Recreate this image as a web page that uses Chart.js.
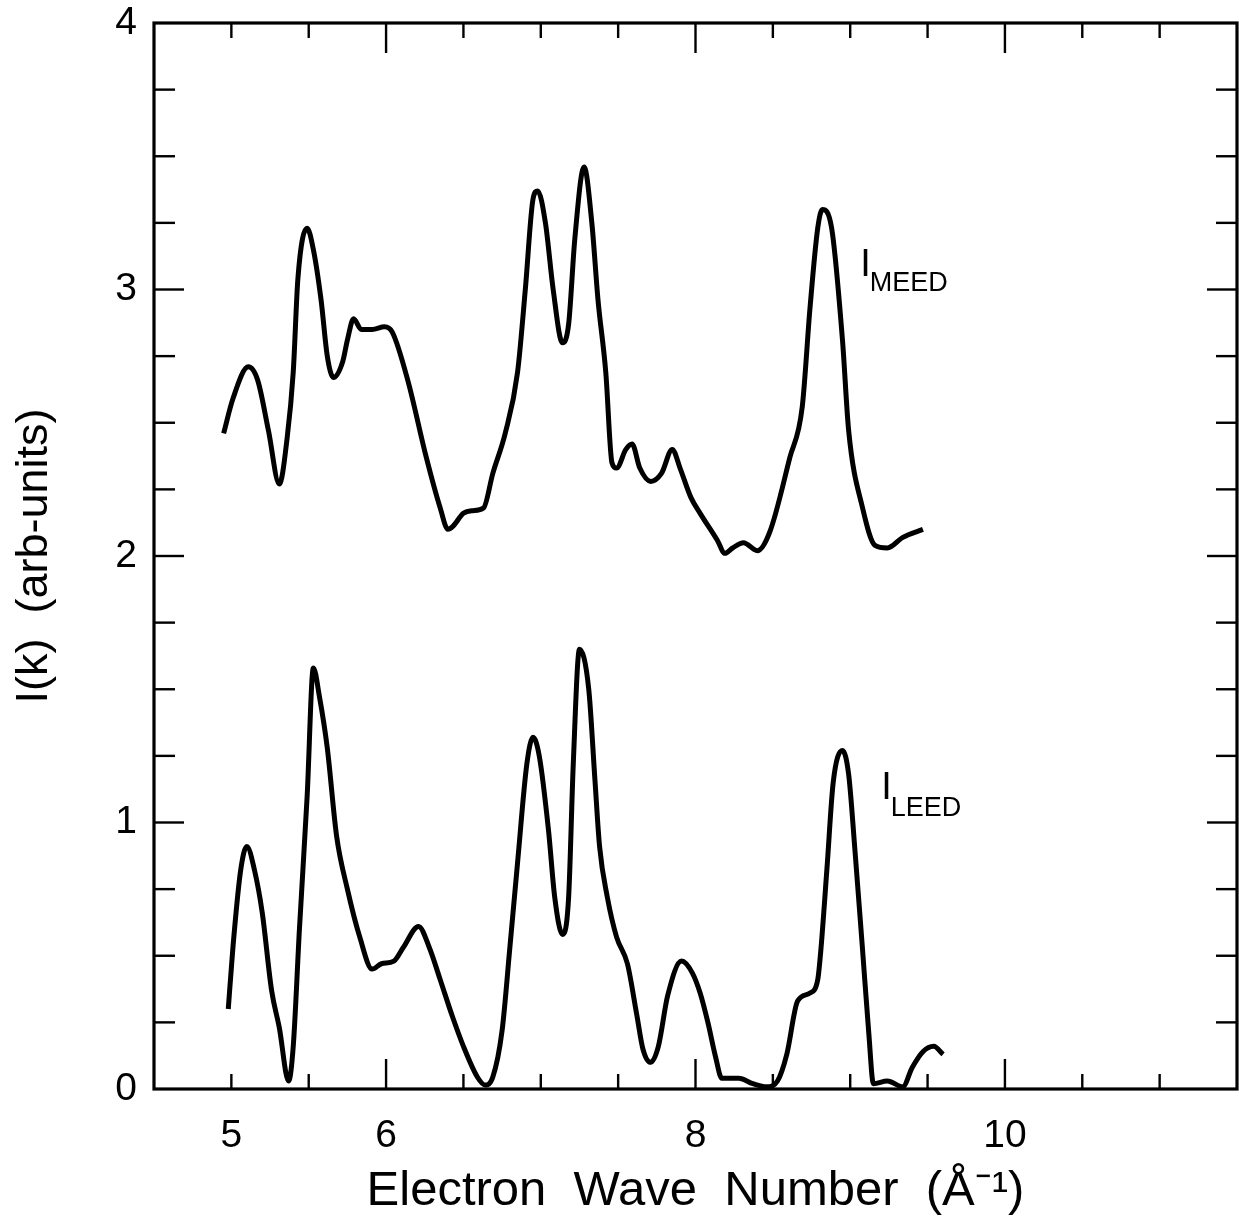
<!DOCTYPE html>
<html>
<head>
<meta charset="utf-8">
<script src="https://cdn.jsdelivr.net/npm/chart.js@4"></script>
<style>
  html, body { margin: 0; padding: 0; background: #fff; }
  #wrap { width: 1239px; height: 1224px; position: relative; }
</style>
</head>
<body>
<div id="wrap"><canvas id="iChart"></canvas></div>
<script>
// I_MEED curve (k in 1/Å, intensity in arb. units)
const meedK = [4.95, 5.01, 5.11, 5.17, 5.24, 5.31, 5.36, 5.40, 5.43, 5.49, 5.53, 5.58, 5.62, 5.66, 5.72, 5.75,
  5.79, 5.84, 5.91, 5.99, 6.04, 6.14, 6.26, 6.35, 6.40, 6.43, 6.50, 6.56, 6.63, 6.69, 6.77, 6.85, 6.90, 6.95,
  6.98, 7.03, 7.08, 7.14, 7.18, 7.22, 7.28, 7.33, 7.37, 7.42, 7.46, 7.49, 7.55, 7.59, 7.64, 7.71, 7.78, 7.85,
  7.90, 7.97, 8.03, 8.14, 8.19, 8.24, 8.31, 8.40, 8.48, 8.61, 8.69, 8.74, 8.79, 8.82, 8.88, 8.95, 8.99, 9.08,
  9.16, 9.24, 9.34, 9.47];
const meedI = [2.46, 2.59, 2.71, 2.66, 2.47, 2.27, 2.44, 2.69, 3.04, 3.23, 3.15, 2.96, 2.75, 2.67, 2.73, 2.81,
  2.89, 2.85, 2.85, 2.86, 2.84, 2.66, 2.37, 2.18, 2.10, 2.11, 2.16, 2.17, 2.18, 2.31, 2.46, 2.69, 3.00, 3.34,
  3.37, 3.25, 3.00, 2.80, 2.87, 3.19, 3.46, 3.25, 2.96, 2.69, 2.35, 2.33, 2.40, 2.42, 2.33, 2.28, 2.31, 2.40,
  2.33, 2.22, 2.16, 2.06, 2.01, 2.03, 2.05, 2.02, 2.09, 2.37, 2.56, 2.93, 3.23, 3.30, 3.23, 2.81, 2.47, 2.18,
  2.04, 2.03, 2.07, 2.10];

// I_LEED curve
const leedK = [4.98, 5.01, 5.06, 5.10, 5.15, 5.20, 5.26, 5.31, 5.37, 5.40, 5.44, 5.49, 5.53, 5.57, 5.62, 5.68,
  5.75, 5.83, 5.91, 5.97, 6.05, 6.11, 6.21, 6.28, 6.35, 6.43, 6.50, 6.59, 6.64, 6.69, 6.75, 6.80, 6.85, 6.91,
  6.95, 6.99, 7.05, 7.09, 7.14, 7.18, 7.21, 7.25, 7.31, 7.35, 7.38, 7.43, 7.49, 7.56, 7.62, 7.66, 7.71, 7.76,
  7.82, 7.91, 7.98, 8.03, 8.08, 8.13, 8.17, 8.28, 8.37, 8.46, 8.53, 8.59, 8.66, 8.74, 8.79, 8.81, 8.85, 8.89,
  8.95, 8.99, 9.03, 9.08, 9.12, 9.15, 9.24, 9.34, 9.40, 9.47, 9.54, 9.60];
const leedI = [0.30, 0.53, 0.82, 0.91, 0.82, 0.66, 0.37, 0.23, 0.03, 0.16, 0.60, 1.10, 1.58, 1.47, 1.28, 0.95,
  0.75, 0.57, 0.45, 0.47, 0.48, 0.53, 0.61, 0.53, 0.41, 0.27, 0.16, 0.045, 0.015, 0.045, 0.22, 0.53, 0.85, 1.22,
  1.32, 1.25, 0.97, 0.72, 0.58, 0.72, 1.22, 1.65, 1.50, 1.16, 0.91, 0.72, 0.57, 0.47, 0.28, 0.15, 0.10, 0.16,
  0.35, 0.48, 0.435, 0.36, 0.25, 0.12, 0.04, 0.04, 0.02, 0.008, 0.03, 0.13, 0.33, 0.36, 0.41, 0.52, 0.83, 1.15,
  1.27, 1.18, 0.90, 0.52, 0.21, 0.02, 0.03, 0.008, 0.08, 0.14, 0.16, 0.13];

// axis labels
const xTickLabels = [5, 6, 8, 10];
const yTickLabels = [0, 1, 2, 3, 4];

const fontFamily = '"Liberation Sans", Arial, Helvetica, sans-serif';

function toPoints(ks, vals) {
  return ks.map((k, i) => ({ x: k, y: vals[i] }));
}

// frame, inward ticks on all four sides, and the curve names
const frameTicks = {
  id: 'frameTicks',
  afterDraw(chart) {
    const { ctx, chartArea: a, scales: { x, y } } = chart;
    ctx.save();
    ctx.strokeStyle = '#000';
    ctx.lineCap = 'butt';
    ctx.lineWidth = 2.4;
    const seg = (x1, y1, x2, y2) => {
      ctx.beginPath();
      ctx.moveTo(x1, y1);
      ctx.lineTo(x2, y2);
      ctx.stroke();
    };
    x.ticks.forEach(t => {
      if (t.value <= x.min || t.value >= x.max) return;
      const px = x.getPixelForValue(t.value);
      const len = t.value % 2 === 0 ? 30 : 15;
      seg(px, a.bottom, px, a.bottom - len);
      seg(px, a.top, px, a.top + len);
    });
    y.ticks.forEach(t => {
      if (t.value <= y.min || t.value >= y.max) return;
      const py = y.getPixelForValue(t.value);
      const len = Number.isInteger(t.value) ? 30 : 21;
      seg(a.left, py, a.left + len, py);
      seg(a.right, py, a.right - len, py);
    });
    ctx.lineWidth = 3.2;
    ctx.strokeRect(a.left, a.top, a.right - a.left, a.bottom - a.top);

    ctx.fillStyle = '#000';
    ctx.textBaseline = 'alphabetic';
    const name = (k, v, sub, drop) => {
      const px = x.getPixelForValue(k);
      const py = y.getPixelForValue(v);
      ctx.font = '38px ' + fontFamily;
      ctx.fillText('I', px, py);
      const w = ctx.measureText('I').width;
      ctx.font = '27px ' + fontFamily;
      ctx.fillText(sub, px + w - 1, py + drop);
    };
    name(9.065, 3.05, 'MEED', 15);
    name(9.2, 1.09, 'LEED', 17);
    ctx.restore();
  }
};

new Chart(document.getElementById('iChart'), {
  type: 'line',
  data: {
    datasets: [
      { label: 'I MEED', data: toPoints(meedK, meedI) },
      { label: 'I LEED', data: toPoints(leedK, leedI) }
    ]
  },
  options: {
    responsive: true,
    maintainAspectRatio: false,
    animation: false,
    layout: { padding: { left: 0, right: 2, top: 23, bottom: 0 } },
    elements: {
      line: { borderColor: '#000', borderWidth: 5, cubicInterpolationMode: 'monotone', fill: false },
      point: { radius: 0 }
    },
    plugins: { legend: { display: false }, tooltip: { enabled: false } },
    scales: {
      x: {
        type: 'linear',
        min: 4.5,
        max: 11.5,
        grid: { display: false, drawTicks: false },
        border: { display: false },
        ticks: {
          stepSize: 0.5,
          autoSkip: false,
          maxRotation: 0,
          padding: 24,
          color: '#000',
          font: { family: fontFamily, size: 39 },
          callback: v => xTickLabels.includes(v) ? String(v) : ''
        },
        title: {
          display: true,
          text: 'Electron  Wave  Number  (Å⁻¹)',
          color: '#000',
          font: { family: fontFamily, size: 49 },
          padding: { top: 0, bottom: 3 }
        },
        afterFit: s => {
          s.height = 135;
          s.paddingLeft = 0;
          s.paddingRight = 0;
        }
      },
      y: {
        min: 0,
        max: 4,
        grid: { display: false, drawTicks: false },
        border: { display: false },
        ticks: {
          stepSize: 0.25,
          autoSkip: false,
          padding: 17,
          color: '#000',
          font: { family: fontFamily, size: 39 },
          callback: v => yTickLabels.includes(v) ? String(v) : ''
        },
        title: {
          display: true,
          text: 'I(k)  (arb-units)',
          color: '#000',
          font: { family: fontFamily, size: 45 },
          padding: { top: 8, bottom: 0 }
        },
        afterFit: s => {
          s.width = 154;
          s.paddingTop = 0;
          s.paddingBottom = 0;
        }
      }
    }
  },
  plugins: [frameTicks]
});
</script>
</body>
</html>
